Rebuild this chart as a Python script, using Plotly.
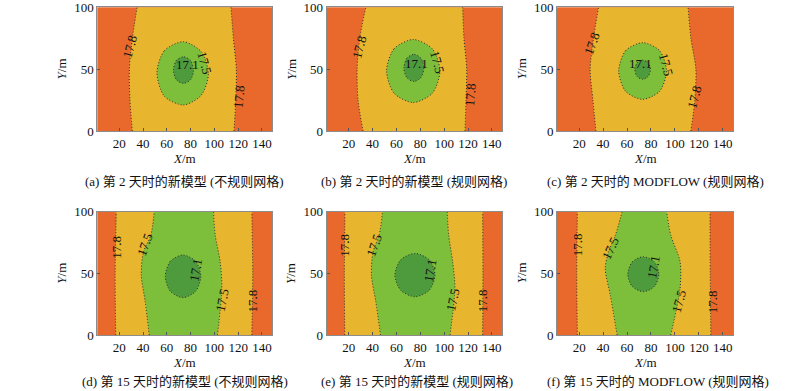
import plotly.graph_objects as go

# ---------------- data ----------------
X_RANGE = [1.5, 148.5]
Y_RANGE = [0, 100]
X_TICKS = [20, 40, 60, 80, 100, 120, 140]
Y_TICKS = [0, 50, 100]
LEVELS = ["17.1", "17.5", "17.8"]

CAPTIONS = [
    "(a) 第 2 天时的新模型 (不规则网格)",
    "(b) 第 2 天时的新模型 (规则网格)",
    "(c) 第 2 天时的 MODFLOW (规则网格)",
    "(d) 第 15 天时的新模型 (不规则网格)",
    "(e) 第 15 天时的新模型 (规则网格)",
    "(f) 第 15 天时的 MODFLOW (规则网格)",
]

# Day 2: 17.8 m contour lines (x at heights Y_D2)
Y_D2 = [0, 25, 50, 75, 100]
A_L178 = [31.0, 29.0, 28.5, 31.0, 35.0]
A_R178 = [116.5, 118.0, 118.5, 116.0, 114.0]
B_L178 = [32.0, 27.8, 27.0, 29.2, 34.3]
B_R178 = [117.5, 118.3, 118.9, 116.6, 115.5]
C_L178 = [34.0, 31.5, 29.2, 32.0, 36.2]
C_R178 = [113.3, 116.6, 117.5, 113.3, 111.0]

# Day 2: closed 17.5 m and 17.1 m contours
A_175_X = [51.7, 58.0, 74.0, 89.0, 95.0, 89.0, 74.0, 58.0, 51.7]
A_175_Y = [47.0, 65.0, 72.2, 64.0, 46.0, 29.0, 21.0, 28.0, 47.0]
A_171_X = [65.6, 68.0, 74.0, 80.0, 82.4, 80.0, 74.0, 68.0, 65.6]
A_171_Y = [49.0, 57.0, 60.0, 57.0, 49.0, 41.5, 38.5, 41.5, 49.0]
B_175_X = [51.7, 58.0, 74.0, 90.0, 96.5, 90.0, 74.0, 58.0, 51.7]
B_175_Y = [48.5, 66.5, 74.0, 66.5, 48.5, 30.5, 23.0, 30.5, 48.5]
B_171_X = [66.2, 68.7, 74.6, 80.5, 83.0, 80.5, 74.6, 68.7, 66.2]
B_171_Y = [51.0, 58.8, 62.0, 58.8, 51.0, 43.2, 40.0, 43.2, 51.0]
C_175_X = [53.0, 58.9, 73.0, 87.1, 93.0, 87.1, 73.0, 58.9, 53.0]
C_175_Y = [48.5, 65.0, 71.4, 65.0, 48.5, 32.0, 25.6, 32.0, 48.5]
C_171_X = [66.5, 68.4, 73.0, 77.6, 79.5, 77.6, 73.0, 68.4, 66.5]
C_171_Y = [49.6, 55.1, 57.4, 55.1, 49.6, 44.1, 41.8, 44.1, 49.6]

# Day 15: 17.8 m contour lines
Y_D15_178 = [0, 50, 100]
D_L178 = [17.0, 16.5, 17.5]
D_R178 = [131.5, 132.3, 131.5]
E_L178 = [16.6, 16.3, 16.8]
E_R178 = [132.3, 132.5, 132.3]
F_L178 = [18.5, 18.0, 18.5]
F_R178 = [130.0, 129.5, 129.3]

# Day 15: 17.5 m contour lines
D_L175_Y = [0, 27, 48.7, 67.5, 81, 100]
D_L175 = [45.2, 41.8, 38.5, 40.4, 46.6, 49.4]
E_L175_Y = [0, 27, 48.7, 67.5, 81, 100]
E_L175 = [46.6, 42.7, 39.0, 40.4, 45.5, 48.3]
F_L175_Y = [0, 32.4, 54, 67.5, 81, 100]
F_L175 = [51.7, 46.0, 41.8, 44.6, 50.3, 55.9]
R175_Y = [0, 37.9, 59.4, 81, 100]
D_R175 = [102.6, 106.3, 104.9, 100.7, 99.3]
E_R175 = [104.9, 109.0, 107.1, 103.8, 102.6]
F_R175 = [96.5, 104.3, 104.3, 96.5, 93.1]

# Day 15: closed 17.1 m contours
D_171_X = [58.7, 63.0, 73.6, 84.2, 88.6, 84.2, 73.6, 63.0, 58.7]
D_171_Y = [47.6, 59.8, 64.9, 59.8, 47.6, 35.4, 30.3, 35.4, 47.6]
E_171_X = [58.7, 63.6, 75.5, 87.4, 92.3, 87.4, 75.5, 63.6, 58.7]
E_171_Y = [48.6, 61.0, 66.2, 61.0, 48.6, 36.2, 31.0, 36.2, 48.6]
F_171_X = [60.6, 64.4, 73.6, 82.8, 86.6, 82.8, 73.6, 64.4, 60.6]
F_171_Y = [49.3, 59.3, 63.5, 59.3, 49.3, 39.3, 35.1, 39.3, 49.3]

# contour labels: (level, x, y, angle)
A_LABELS = [("17.8", 29.2, 68, -75), ("17.1", 77, 54, 0), ("17.5", 92, 54.7, 75), ("17.8", 121, 27.7, -85)]
B_LABELS = [("17.8", 29.2, 68, -75), ("17.1", 77, 54.7, 0), ("17.5", 94, 56, 75), ("17.8", 121.7, 29, -85)]
C_LABELS = [("17.8", 30.5, 71, -70), ("17.1", 71, 54.7, 0), ("17.5", 92.3, 53.4, 75), ("17.8", 116.5, 27.7, -75)]
D_LABELS = [("17.8", 18, 71.6, -90), ("17.5", 41.8, 73, -70), ("17.1", 83.9, 52.7, -80),
            ("17.5", 107, 28.4, -78), ("17.8", 132.9, 27.6, -90)]
E_LABELS = [("17.8", 16.6, 73, -90), ("17.5", 41.8, 73, -70), ("17.1", 88, 52.7, -80),
            ("17.5", 107.6, 28.4, -78), ("17.8", 132.9, 27.6, -90)]
F_LABELS = [("17.8", 19.2, 73, -90), ("17.5", 46, 70.3, -65), ("17.1", 82.4, 55.4, -80),
            ("17.5", 103.4, 27, -75), ("17.8", 131.5, 27, -90)]

# ---------------- style ----------------
ORANGE = "#E8692B"
YELLOW = "#E8B52E"
LGREEN = "#7DBE3A"
DGREEN = "#4E9B3E"
LINE = dict(color="#2b2b2b", width=1, dash="1px,2px", shape="spline", smoothing=0.8)
SERIF = "Liberation Serif, Times New Roman, serif"
CAP_FONT = "Liberation Serif, Noto Sans CJK SC, serif"

# panel geometry in pixels (left, right, top, bottom)
W, H = 800, 391
COLS_PX = [(97.3, 272.0), (326.7, 502.0), (557.0, 733.0)]
ROWS_PX = [(7.3, 131.0), (211.7, 335.0)]
XTITLE_Y = [158, 362]
CAP_Y = [181, 381]
CAP_X = [184, 414, 655, 185, 417, 658]

panels = [
    dict(kind="d2", l178=A_L178, r178=A_R178, e175=(A_175_X, A_175_Y), e171=(A_171_X, A_171_Y), labels=A_LABELS),
    dict(kind="d2", l178=B_L178, r178=B_R178, e175=(B_175_X, B_175_Y), e171=(B_171_X, B_171_Y), labels=B_LABELS),
    dict(kind="d2", l178=C_L178, r178=C_R178, e175=(C_175_X, C_175_Y), e171=(C_171_X, C_171_Y), labels=C_LABELS),
    dict(kind="d15", l178=D_L178, r178=D_R178, l175=(D_L175, D_L175_Y), r175=(D_R175, R175_Y),
         e171=(D_171_X, D_171_Y), labels=D_LABELS),
    dict(kind="d15", l178=E_L178, r178=E_R178, l175=(E_L175, E_L175_Y), r175=(E_R175, R175_Y),
         e171=(E_171_X, E_171_Y), labels=E_LABELS),
    dict(kind="d15", l178=F_L178, r178=F_R178, l175=(F_L175, F_L175_Y), r175=(F_R175, R175_Y),
         e171=(F_171_X, F_171_Y), labels=F_LABELS),
]

fig = go.Figure()
annotations = []
layout = {}

for i, p in enumerate(panels):
    r, c = divmod(i, 3)
    n = "" if i == 0 else str(i + 1)
    xa, ya = "x" + n, "y" + n
    l, rr = COLS_PX[c]
    t, b = ROWS_PX[r]
    ax_common = dict(showgrid=False, zeroline=False, showline=True, mirror=True,
                     linecolor="#8c8c8c", linewidth=1, ticks="inside", ticklen=3,
                     tickcolor="#555", automargin=False, ticklabeloverflow="allow",
                     tickfont=dict(family=SERIF, size=13, color="#111"))
    layout["xaxis" + n] = dict(domain=[l / W, rr / W], range=X_RANGE, tickvals=X_TICKS,
                               anchor=ya, **ax_common)
    layout["yaxis" + n] = dict(domain=[1 - b / H, 1 - t / H], range=Y_RANGE, tickvals=Y_TICKS,
                               anchor=xa, **ax_common)
    ys178 = Y_D2 if p["kind"] == "d2" else Y_D15_178

    def add(x, y, **kw):
        fig.add_trace(go.Scatter(x=x, y=y, xaxis=xa, yaxis=ya, mode="lines",
                                 hoverinfo="skip", showlegend=False, **kw))

    nofill_line = dict(width=0, shape="spline", smoothing=0.8)
    # yellow band between the 17.8 lines
    add(p["l178"], ys178, line=nofill_line)
    add(p["r178"], ys178, line=nofill_line, fill="tonextx", fillcolor=YELLOW)
    if p["kind"] == "d2":
        add(p["e175"][0], p["e175"][1], line=nofill_line, fill="toself", fillcolor=LGREEN)
    else:
        add(p["l175"][0], p["l175"][1], line=nofill_line)
        add(p["r175"][0], p["r175"][1], line=nofill_line, fill="tonextx", fillcolor=LGREEN)
    add(p["e171"][0], p["e171"][1], line=nofill_line, fill="toself", fillcolor=DGREEN)
    # dotted contour lines
    add(p["l178"], ys178, line=LINE)
    add(p["r178"], ys178, line=LINE)
    if p["kind"] == "d2":
        add(p["e175"][0], p["e175"][1], line=LINE)
    else:
        add(p["l175"][0], p["l175"][1], line=LINE)
        add(p["r175"][0], p["r175"][1], line=LINE)
    add(p["e171"][0], p["e171"][1], line=LINE)

    for txt, lx, ly, ang in p["labels"]:
        annotations.append(dict(x=lx, y=ly, xref=xa, yref=ya, text=txt, showarrow=False,
                                xanchor="center", yanchor="middle",
                                textangle=ang, font=dict(family=SERIF, size=13, color="#111")))
    # axis titles
    annotations.append(dict(x=(l + rr) / 2 / W, y=1 - XTITLE_Y[r] / H, xref="paper", yref="paper",
                            xanchor="center", yanchor="middle",
                            text="<i>X</i>/m", showarrow=False,
                            font=dict(family=SERIF, size=13, color="#111")))
    annotations.append(dict(x=(l - 36) / W, y=1 - (t + b) / 2 / H, xref="paper", yref="paper",
                            xanchor="center", yanchor="middle",
                            text="<i>Y</i>/m", showarrow=False, textangle=-90,
                            font=dict(family=SERIF, size=13, color="#111")))
    annotations.append(dict(x=CAP_X[i] / W, y=1 - CAP_Y[r] / H, xref="paper", yref="paper",
                            xanchor="center", yanchor="middle",
                            text=CAPTIONS[i], showarrow=False,
                            font=dict(family=CAP_FONT, size=13, color="#111")))

fig.update_layout(width=W, height=H, margin=dict(l=0, r=0, t=0, b=0, pad=0, autoexpand=False),
                  paper_bgcolor="white", plot_bgcolor=ORANGE,
                  annotations=annotations, **layout)
fig.write_html("out.html", config={"displayModeBar": False},
               post_script="document.body.style.margin='0';document.body.style.overflow='hidden';")
